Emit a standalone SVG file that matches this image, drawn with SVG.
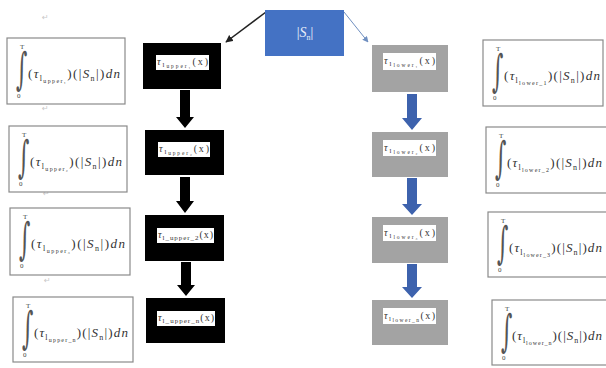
<svg xmlns="http://www.w3.org/2000/svg" width="606" height="368" viewBox="0 0 606 368">
<defs>
<style>
.fb{fill:#fff;stroke:#8a8a8a;stroke-width:1.2}
.f{font-family:"Liberation Serif","DejaVu Serif",serif;font-size:13px;fill:#333}
.lim{font-family:"Liberation Serif",serif;font-size:7px;fill:#444}
.int{font-family:"DejaVu Serif",serif;font-size:44px;fill:#555}
.bk{fill:#000}
.gr{fill:#a3a3a3}
.lb{fill:#fff}
.lt{font-family:"Liberation Serif",serif;font-size:10px;fill:#333}
.ret{font-family:"DejaVu Sans",sans-serif;font-size:8px;fill:#c8c8c8}
.sa{fill:#000}
.ba{fill:#3d62ad}
</style>
<marker id="ah" viewBox="0 0 10 10" refX="9" refY="5" markerWidth="5" markerHeight="5" orient="auto"><path d="M0,0 L10,5 L0,10 z" fill="#222"/></marker>
<marker id="ah2" viewBox="0 0 10 10" refX="9" refY="5" markerWidth="6" markerHeight="6" orient="auto"><path d="M0,0 L10,5 L0,10 z" fill="#6f8fc0"/></marker>
<g id="fml-up">
<text class="lim" x="13" y="11">T</text>
<text class="int" x="0" y="0" transform="translate(9,46) scale(0.5,1)">∫</text>
<text class="lim" x="10" y="60">0</text>
</g>
</defs>

<text class="ret" x="42" y="20">↵</text>
<text class="ret" x="42" y="111">↵</text>
<text class="ret" x="43" y="196">↵</text>
<text class="ret" x="44" y="283">↵</text>

<g id="connectors">
<line x1="266" y1="12" x2="226" y2="42" stroke="#222" stroke-width="1.5" marker-end="url(#ah)"/>
<line x1="344" y1="12" x2="368" y2="42" stroke="#6f8fc0" stroke-width="1" marker-end="url(#ah2)"/>
<path class="sa" d="M180,90 H190 V117 H194 L185,128 L176,117 H180 Z"/>
<path class="sa" d="M180,177 H190 V201 H194 L185,213 L176,201 H180 Z"/>
<path class="sa" d="M181,262 H191 V285 H195 L186,296 L177,285 H181 Z"/>
<path class="ba" d="M407,94 H417 V118 H422 L412,130 L402,118 H407 Z"/>
<path class="ba" d="M407,178 H417 V204 H422 L412,215 L402,204 H407 Z"/>
<path class="ba" d="M407,264 H417 V287 H422 L412,298 L402,287 H407 Z"/>
</g>

<g id="sn">
<rect x="265" y="10" width="79" height="46" fill="#4472c4"/>
<text x="305" y="37" text-anchor="middle" font-family="Liberation Serif,serif" font-size="14" fill="#e8eefa">|<tspan font-style="italic">S</tspan><tspan font-size="8" dy="3">n</tspan><tspan dy="-3">|</tspan></text>
</g>

<g id="up1">
<rect class="bk" x="143" y="43" width="78" height="46"/>
<rect class="lb" x="156" y="55" width="53" height="15"/>
<text class="lt" x="157" y="65" textLength="51" lengthAdjust="spacing"><tspan font-style="italic">τ</tspan><tspan font-size="7" dy="2">l</tspan><tspan font-size="5.5" dy="1">upper₁</tspan><tspan dy="-3">(x)</tspan></text>
</g>
<g id="up2">
<rect class="bk" x="145" y="130" width="79" height="45"/>
<rect class="lb" x="158" y="142" width="52" height="15"/>
<text class="lt" x="159" y="152" textLength="50" lengthAdjust="spacing"><tspan font-style="italic">τ</tspan><tspan font-size="7" dy="2">l</tspan><tspan font-size="5.5" dy="1">upper₂</tspan><tspan dy="-3">(x)</tspan></text>
</g>
<g id="up3">
<rect class="bk" x="145" y="215" width="79" height="46"/>
<rect class="lb" x="157" y="228" width="57" height="15"/>
<text class="lt" x="158" y="238" textLength="55" lengthAdjust="spacing"><tspan font-style="italic">τ</tspan><tspan font-size="7" dy="2">l_upper_2</tspan><tspan dy="-2">(x)</tspan></text>
</g>
<g id="up4">
<rect class="bk" x="146" y="298" width="79" height="45"/>
<rect class="lb" x="157" y="311" width="58" height="15"/>
<text class="lt" x="158" y="321" textLength="56" lengthAdjust="spacing"><tspan font-style="italic">τ</tspan><tspan font-size="7" dy="2">l_upper_n</tspan><tspan dy="-2">(x)</tspan></text>
</g>

<g id="lo1">
<rect class="gr" x="372" y="45" width="76" height="47"/>
<rect class="lb" x="383" y="53" width="53" height="17"/>
<text class="lt" x="384" y="64" textLength="51" lengthAdjust="spacing"><tspan font-style="italic">τ</tspan><tspan font-size="7" dy="2">l</tspan><tspan font-size="5.5" dy="1">lower₁</tspan><tspan dy="-3">(x)</tspan></text>
</g>
<g id="lo2">
<rect class="gr" x="372" y="132" width="76" height="45"/>
<rect class="lb" x="383" y="140" width="53" height="16"/>
<text class="lt" x="384" y="151" textLength="51" lengthAdjust="spacing"><tspan font-style="italic">τ</tspan><tspan font-size="7" dy="2">l</tspan><tspan font-size="5.5" dy="1">lower₂</tspan><tspan dy="-3">(x)</tspan></text>
</g>
<g id="lo3">
<rect class="gr" x="372" y="217" width="76" height="46"/>
<rect class="lb" x="383" y="225" width="53" height="16"/>
<text class="lt" x="384" y="236" textLength="51" lengthAdjust="spacing"><tspan font-style="italic">τ</tspan><tspan font-size="7" dy="2">l</tspan><tspan font-size="5.5" dy="1">lower₃</tspan><tspan dy="-3">(x)</tspan></text>
</g>
<g id="lo4">
<rect class="gr" x="372" y="300" width="76" height="45"/>
<rect class="lb" x="383" y="308" width="53" height="16"/>
<text class="lt" x="384" y="319" textLength="51" lengthAdjust="spacing"><tspan font-style="italic">τ</tspan><tspan font-size="7" dy="2">l</tspan><tspan font-size="5.5" dy="1">lower_n</tspan><tspan dy="-3">(x)</tspan></text>
</g>

<g id="fu1" transform="translate(7,38)">
<rect class="fb" x="0" y="0" width="118" height="66"/>
<use href="#fml-up"/>
<text class="f" x="21" y="40" textLength="92" lengthAdjust="spacing">(<tspan font-style="italic">τ</tspan><tspan font-size="8" dy="3">l</tspan><tspan font-size="6" dy="2">upper₁</tspan><tspan dy="-5">)(|</tspan><tspan font-style="italic">S</tspan><tspan font-size="8" dy="3">n</tspan><tspan dy="-3">|)</tspan><tspan font-style="italic">dn</tspan></text>
</g>
<g id="fu2" transform="translate(9,126)">
<rect class="fb" x="0" y="0" width="118" height="66"/>
<use href="#fml-up"/>
<text class="f" x="21" y="40" textLength="92" lengthAdjust="spacing">(<tspan font-style="italic">τ</tspan><tspan font-size="8" dy="3">l</tspan><tspan font-size="6" dy="2">upper₂</tspan><tspan dy="-5">)(|</tspan><tspan font-style="italic">S</tspan><tspan font-size="8" dy="3">n</tspan><tspan dy="-3">|)</tspan><tspan font-style="italic">dn</tspan></text>
</g>
<g id="fu3" transform="translate(10,208)">
<rect class="fb" x="0" y="0" width="120" height="67"/>
<use href="#fml-up"/>
<text class="f" x="21" y="40" textLength="94" lengthAdjust="spacing">(<tspan font-style="italic">τ</tspan><tspan font-size="8" dy="3">l</tspan><tspan font-size="6" dy="2">upper₃</tspan><tspan dy="-5">)(|</tspan><tspan font-style="italic">S</tspan><tspan font-size="8" dy="3">n</tspan><tspan dy="-3">|)</tspan><tspan font-style="italic">dn</tspan></text>
</g>
<g id="fu4" transform="translate(13,297)">
<rect class="fb" x="0" y="0" width="120" height="65"/>
<use href="#fml-up"/>
<text class="f" x="21" y="40" textLength="94" lengthAdjust="spacing">(<tspan font-style="italic">τ</tspan><tspan font-size="8" dy="3">l</tspan><tspan font-size="6" dy="2">upper_n</tspan><tspan dy="-5">)(|</tspan><tspan font-style="italic">S</tspan><tspan font-size="8" dy="3">n</tspan><tspan dy="-3">|)</tspan><tspan font-style="italic">dn</tspan></text>
</g>

<g id="fl1" transform="translate(483,40)">
<rect class="fb" x="0" y="0" width="120" height="66"/>
<use href="#fml-up"/>
<text class="f" x="21" y="40" textLength="96" lengthAdjust="spacing">(<tspan font-style="italic">τ</tspan><tspan font-size="8" dy="3">l</tspan><tspan font-size="6" dy="2">lower_1</tspan><tspan dy="-5">)(|</tspan><tspan font-style="italic">S</tspan><tspan font-size="8" dy="3">n</tspan><tspan dy="-3">|)</tspan><tspan font-style="italic">dn</tspan></text>
</g>
<g id="fl2" transform="translate(486,127)">
<rect class="fb" x="0" y="0" width="122" height="66"/>
<use href="#fml-up"/>
<text class="f" x="21" y="40" textLength="95" lengthAdjust="spacing">(<tspan font-style="italic">τ</tspan><tspan font-size="8" dy="3">l</tspan><tspan font-size="6" dy="2">lower_2</tspan><tspan dy="-5">)(|</tspan><tspan font-style="italic">S</tspan><tspan font-size="8" dy="3">n</tspan><tspan dy="-3">|)</tspan><tspan font-style="italic">dn</tspan></text>
</g>
<g id="fl3" transform="translate(488,212)">
<rect class="fb" x="0" y="0" width="122" height="65"/>
<use href="#fml-up"/>
<text class="f" x="21" y="40" textLength="93" lengthAdjust="spacing">(<tspan font-style="italic">τ</tspan><tspan font-size="8" dy="3">l</tspan><tspan font-size="6" dy="2">lower_3</tspan><tspan dy="-5">)(|</tspan><tspan font-style="italic">S</tspan><tspan font-size="8" dy="3">n</tspan><tspan dy="-3">|)</tspan><tspan font-style="italic">dn</tspan></text>
</g>
<g id="fl4" transform="translate(492,300)">
<rect class="fb" x="0" y="0" width="120" height="65"/>
<use href="#fml-up"/>
<text class="f" x="20" y="40" textLength="90" lengthAdjust="spacing">(<tspan font-style="italic">τ</tspan><tspan font-size="8" dy="3">l</tspan><tspan font-size="6" dy="2">lower_n</tspan><tspan dy="-5">)(|</tspan><tspan font-style="italic">S</tspan><tspan font-size="8" dy="3">n</tspan><tspan dy="-3">|)</tspan><tspan font-style="italic">dn</tspan></text>
</g>
</svg>
